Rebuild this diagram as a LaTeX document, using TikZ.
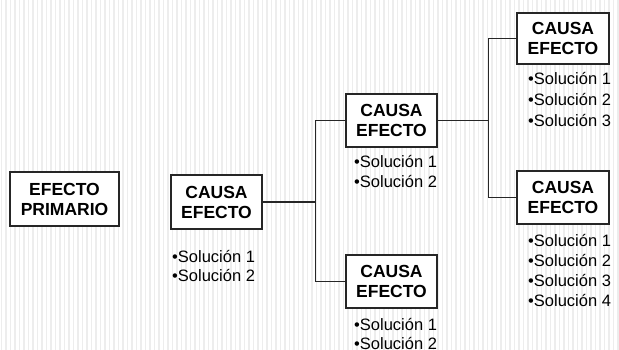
\documentclass[tikz,border=0pt]{standalone}
\usepackage{fontspec}
\setmainfont{Liberation Sans}
\begin{document}
\begin{tikzpicture}[x=1pt,y=-1pt,
  causebox/.style={draw=black!85, line width=1.5pt, fill=white, inner sep=0pt,
    minimum width=91pt, minimum height=53pt, align=center,
    font=\bfseries\fontsize{17.5}{20}\selectfont},
  solline/.style={anchor=base west, inner sep=0pt,
    font=\fontsize{16.5}{20}\selectfont, text=black},
  link/.style={draw=black!85, line width=1.2pt},
  stripe/.style={draw=black!7, line width=1.4pt}]
\useasboundingbox (0,0) rectangle (619,350);
% striped paper background
\fill[white] (0,0) rectangle (619,350);
\foreach \x in {1.5,6,...,619} \draw[stripe] (\x,0) -- (\x,350);

% boxes
\node[causebox, minimum width=109pt, minimum height=54pt] (P) at (64.5,199) {EFECTO\\PRIMARIO};
\node[causebox, minimum height=54pt] (A) at (216.5,202) {CAUSA\\EFECTO};
\node[causebox] (B) at (391.5,120.5) {CAUSA\\EFECTO};
\node[causebox] (C) at (391.5,281.5) {CAUSA\\EFECTO};
\node[causebox, minimum width=92pt, minimum height=51pt] (D) at (563,38.5) {CAUSA\\EFECTO};
\node[causebox, minimum width=92pt] (E) at (563,197.5) {CAUSA\\EFECTO};

% branch connectors
\path (A.east) ++(53,0) coordinate (j1);
\draw[link] (A.east) -- (j1);
\draw[link] (B.west) -| (j1) |- (C.west);
\path (B.east) ++(51,0) coordinate (j2);
\draw[link] (B.east) -- (j2);
\draw[link] (D.west) -| (j2) |- (E.west);

% solution lists
\foreach \i/\y in {1/262,2/281}
  \node[solline] (sA\i) at (172,\y) {•Solución \i};
\foreach \i/\y in {1/168,2/188}
  \node[solline] (sB\i) at (354,\y) {•Solución \i};
\foreach \i/\y in {1/330,2/349}
  \node[solline] (sC\i) at (354,\y) {•Solución \i};
\foreach \i/\y in {1/85,2/106,3/127}
  \node[solline] (sD\i) at (528,\y) {•Solución \i};
\foreach \i/\y in {1/246,2/266,3/286,4/306}
  \node[solline] (sE\i) at (528,\y) {•Solución \i};
\end{tikzpicture}
\end{document}
